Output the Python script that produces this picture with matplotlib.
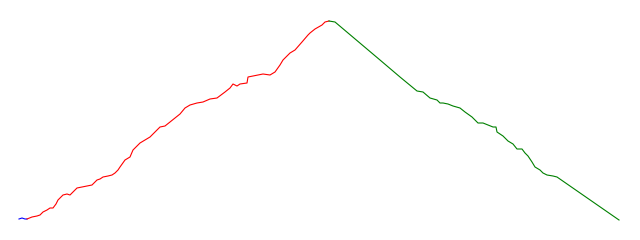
import matplotlib
matplotlib.use("Agg")
import matplotlib.pyplot as plt

# values (x = step, y = level)
blue_x = [19, 22, 25, 27]
blue_y = [21, 22, 21, 21]

red_x = [27, 32, 37, 40, 43, 47, 50, 53, 56, 58, 63, 67, 70, 74, 77, 82, 87, 92,
         97, 100, 103, 108, 112, 115, 118, 120, 125, 130, 133, 137, 140, 145, 150,
         155, 160, 165, 170, 175, 180, 185, 190, 197, 203, 210, 217, 221, 225, 230,
         233, 237, 240, 247, 248, 253, 258, 263, 270, 275, 280, 283, 290, 295, 302,
         308, 310, 315, 322, 325, 329]
red_y = [21, 23, 24, 25, 28, 30, 32, 32, 36, 40, 45, 46, 45, 49, 52, 53, 54, 55,
         60, 61, 63, 64, 65, 67, 70, 73, 80, 83, 90, 94, 97, 100, 103,
         108, 113, 114, 118, 122, 126, 132, 135, 137, 138, 141, 142, 145, 148, 152,
         156, 154, 156, 157, 163, 164, 165, 166, 165, 168, 175, 180, 187, 190, 198,
         205, 207, 211, 215, 218, 219]

green_x = [329, 335, 380, 400, 417, 423, 430, 437, 440, 443, 448, 453, 460, 465,
           472, 478, 483, 488, 493, 496, 497, 503, 508, 513, 517, 522, 525, 528,
           532, 535, 540, 543, 547, 553, 557, 619]
green_y = [219, 218, 180, 163, 149, 148, 142, 140, 137, 137, 136, 134, 132, 128,
           123, 117, 117, 115, 113, 113, 108, 104, 99, 96, 91, 91, 87, 84,
           78, 73, 70, 67, 65, 64, 63, 20]

fig = plt.figure(figsize=(6.4, 2.4), dpi=100)
ax = fig.add_axes([0, 0, 1, 1])
ax.plot(blue_x, blue_y, color="blue", linewidth=0.8)
ax.plot(red_x, red_y, color="red", linewidth=0.8)
ax.plot(green_x, green_y, color="green", linewidth=0.8)
ax.set_xlim(0, 640)
ax.set_ylim(0, 240)
ax.axis("off")

fig.savefig("out.png", dpi=100, facecolor="white")
